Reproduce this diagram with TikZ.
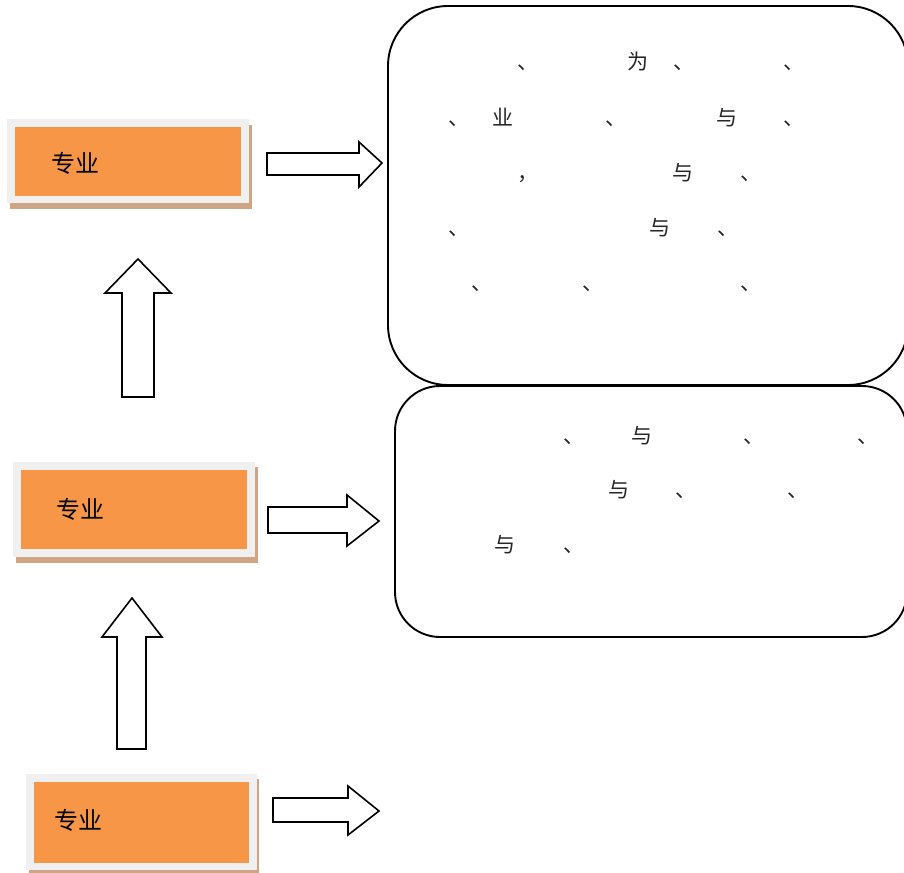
\documentclass[tikz,border=0pt]{standalone}
\usepackage{fontspec}
\newfontfamily\cjk{Noto Sans CJK SC}
\definecolor{orangefill}{HTML}{F79646}
\definecolor{framegray}{HTML}{F0F0F0}
\definecolor{shadowtan}{HTML}{CFA585}
\tikzset{
  lbl/.style={inner sep=0pt, font=\cjk\fontsize{24}{24}\selectfont, text=black},
  ch/.style={inner sep=0pt, anchor=base, font=\cjk\fontsize{21}{21}\selectfont, text=black!85},
  blockarrow/.style={draw=black, line width=1.6pt, fill=white, line join=miter},
  roundbox/.style={draw=black, line width=1.9pt},
  orangebox/.style={fill=orangefill, inner sep=0pt}
}
\begin{document}
\begin{tikzpicture}[x=1pt,y=-1pt]
\useasboundingbox (0,0) rectangle (904,872);
\clip (0,0) rectangle (904,872);
% ---- orange boxes with frame and shadow ----
\fill[shadowtan] (10,125) rectangle (252,209);
\fill[framegray] (7,119) rectangle (249,203);
\node[orangebox, minimum width=226pt, minimum height=69pt] (p1) at (128,161.5) {};
\node[lbl] (t1) at (75,163) {专业};

\fill[shadowtan] (16,467) rectangle (258,563);
\fill[framegray] (13,462) rectangle (255,557);
\node[orangebox, minimum width=226pt, minimum height=79pt] (p2) at (134,509.5) {};
\node[lbl] (t2) at (80,509) {专业};

\fill[shadowtan] (29,779) rectangle (259,875);
\fill[framegray] (26,774) rectangle (257,870);
\node[orangebox, minimum width=215pt, minimum height=81pt] (p3) at (141.5,822.5) {};
\node[lbl] (t3) at (78,820) {专业};

% ---- block arrows right ----
\draw[blockarrow] (267,153) -- (359,153) -- (359,142) -- (382,163) -- (359,187) -- (359,175) -- (267,175) -- cycle;
\draw[blockarrow] (268,507) -- (347,507) -- (347,495) -- (379,521) -- (347,546) -- (347,533) -- (268,533) -- cycle;
\draw[blockarrow] (273,798) -- (348,798) -- (348,786) -- (379,811) -- (348,835) -- (348,822) -- (273,822) -- cycle;

% ---- block arrows up ----
\draw[blockarrow] (122,397) -- (122,293) -- (105,293) -- (138,259) -- (171,293) -- (154,293) -- (154,397) -- cycle;
\draw[blockarrow] (117,749) -- (117,637) -- (102,637) -- (132,598) -- (162,637) -- (146,637) -- (146,749) -- cycle;

% ---- rounded boxes ----
\draw[roundbox, rounded corners=60pt] (388,6) rectangle (908,385);
\draw[roundbox, rounded corners=45pt] (395,386) rectangle (907,637);

% ---- text in box 1 ----
\node[ch] (a11) at (528,70) {、};
\node[ch] (a12) at (638,70) {为};
\node[ch] (a13) at (684,70) {、};
\node[ch] (a14) at (794,70) {、};

\node[ch] (a21) at (459,125) {、};
\node[ch] (a22) at (503,125) {业};
\node[ch] (a23) at (616,125) {、};
\node[ch] (a24) at (727,125) {与};
\node[ch] (a25) at (794,125) {、};

\node[ch] (a31) at (528,180) {，};
\node[ch] (a32) at (683,180) {与};
\node[ch] (a33) at (751,180) {、};

\node[ch] (a41) at (459,235) {、};
\node[ch] (a42) at (660,235) {与};
\node[ch] (a43) at (728,235) {、};

\node[ch] (a51) at (482,290) {、};
\node[ch] (a52) at (593,290) {、};
\node[ch] (a53) at (751,290) {、};

% ---- text in box 2 ----
\node[ch] (b11) at (574,443) {、};
\node[ch] (b12) at (642,443) {与};
\node[ch] (b13) at (754,443) {、};
\node[ch] (b14) at (868,443) {、};

\node[ch] (b21) at (619,497) {与};
\node[ch] (b22) at (686,497) {、};
\node[ch] (b23) at (798,497) {、};

\node[ch] (b31) at (505,552) {与};
\node[ch] (b32) at (574,552) {、};
\end{tikzpicture}
\end{document}
